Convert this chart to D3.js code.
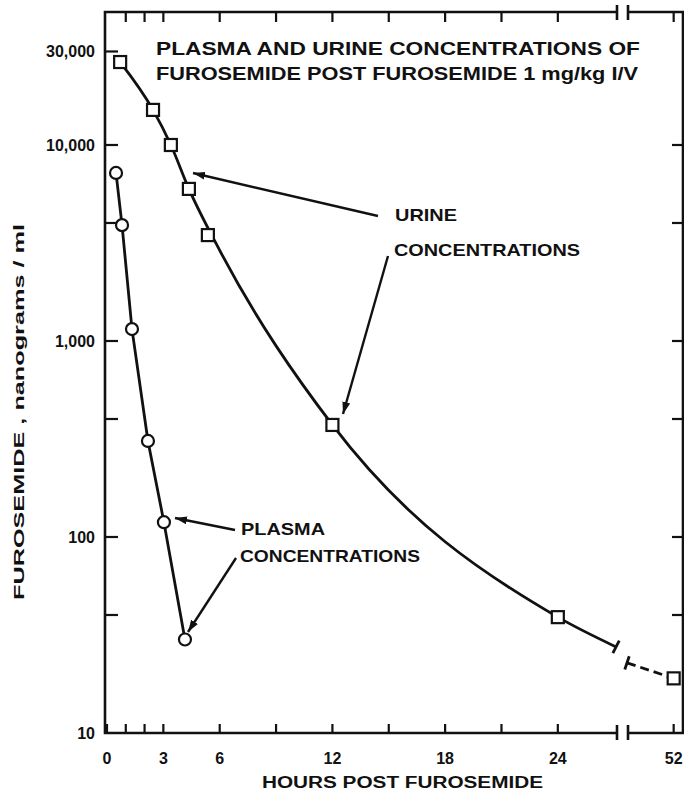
<!DOCTYPE html>
<html>
<head>
<meta charset="utf-8">
<script src="https://cdn.jsdelivr.net/npm/d3@7"></script>
<style>
  body { margin: 0; background: #fff; }
  svg { display: block; }
  text { font-family: "Liberation Sans", Arial, sans-serif; font-weight: bold; fill: #111; }
</style>
</head>
<body>
<svg id="chart" width="684" height="793"></svg>
<script>
// hours post dose and concentrations (ng/ml)
const urineHours = [0.7, 2.45, 3.4, 4.36, 5.37, 12, 24, 52];
const urineValues = [26500, 15100, 10000, 5970, 3470, 373, 39, 19];
const plasmaHours = [0.48, 0.8, 1.33, 2.18, 3.03, 4.15];
const plasmaValues = [7200, 3900, 1150, 309, 119, 30];

// smooth urine curve as drawn (ends at the axis break)
const urineCurveHours = [0.7, 2.45, 3.4, 4.36, 6, 12, 24, 27.1];
const urineCurveValues = [26500, 15100, 10000, 5970, 2900, 373, 39, 27.5];
// dashed piece after the break
const urineDashHours = [49.5, 52];
const urineDashValues = [22.8, 19];

const xTicks = [0, 1, 2, 3, 6, 9, 12, 15, 18, 21, 24];
const xTickLabels = [0, 3, 6, 12, 18, 24];
const xTicksAfterBreak = [52];
const yMajorTicks = [30000, 10000, 1000, 100, 10];
const yMinorTicks = [4000, 400, 40];
const yTickLabels = ['30,000', '10,000', '1,000', '100', '10'];
const rightTicks = [10000, 4000, 1000, 400, 100, 40];

const svg = d3.select('#chart');
const mLeft = 105, mRight = 683, mTop = 12, mBottom = 733;
const breakA = 617, breakB = 628;

const x = d3.scaleLinear().domain([0, 27.15]).range([107, breakA]);
const x2 = d3.scaleLinear().domain([49.5, 52.5]).range([627, 683]);
const y = d3.scaleLog().domain([10, 47700]).range([mBottom, mTop]);

const fx = h => h > 40 ? x2(h) : x(h);
const ink = '#111';

// frame with axis break
const frame = svg.append('g').attr('stroke', ink).attr('stroke-width', 2.6).attr('fill', 'none');
frame.append('path').attr('d', `M${breakA},${mBottom} H${mLeft} V${mTop} H${breakA}`);
frame.append('path').attr('d', `M${breakB},${mBottom} H${mRight} V${mTop} H${breakB}`);
[breakA, breakB].forEach(bx => {
  frame.append('line').attr('x1', bx).attr('x2', bx).attr('y1', mBottom - 8).attr('y2', mBottom + 7);
  frame.append('line').attr('x1', bx).attr('x2', bx).attr('y1', mTop - 7).attr('y2', mTop + 8);
});

// bottom / top ticks
const tk = svg.append('g').attr('stroke', ink).attr('stroke-width', 2.2);
xTicks.forEach(h => {
  tk.append('line').attr('x1', x(h)).attr('x2', x(h)).attr('y1', mBottom).attr('y2', mBottom - 9);
  if (h > 0) tk.append('line').attr('x1', x(h)).attr('x2', x(h)).attr('y1', mTop).attr('y2', mTop + 10);
});
xTicksAfterBreak.forEach(h => {
  tk.append('line').attr('x1', x2(h)).attr('x2', x2(h)).attr('y1', mBottom).attr('y2', mBottom - 9);
  tk.append('line').attr('x1', x2(h)).attr('x2', x2(h)).attr('y1', mTop).attr('y2', mTop + 10);
});

// left / right ticks
yMajorTicks.concat(yMinorTicks).filter(v => v > 10).forEach(v => {
  tk.append('line').attr('x1', mLeft).attr('x2', mLeft + 13).attr('y1', y(v)).attr('y2', y(v));
});
rightTicks.forEach(v => {
  tk.append('line').attr('x1', mRight).attr('x2', mRight - 11).attr('y1', y(v)).attr('y2', y(v));
});

// tick labels
svg.append('g').selectAll('text').data(yMajorTicks).enter().append('text')
  .attr('x', 95).attr('y', d => y(d) + 6)
  .attr('text-anchor', 'end').attr('font-size', 16)
  .text((d, i) => yTickLabels[i]);

svg.append('g').selectAll('text').data(xTickLabels).enter().append('text')
  .attr('x', d => x(d)).attr('y', 764)
  .attr('text-anchor', 'middle').attr('font-size', 16)
  .text(d => d);
svg.append('g').selectAll('text').data(xTicksAfterBreak).enter().append('text')
  .attr('x', d => x2(d)).attr('y', 764)
  .attr('text-anchor', 'middle').attr('font-size', 16)
  .text(d => d);

// axis titles
svg.append('text').attr('x', 262).attr('y', 788).attr('font-size', 16)
  .attr('textLength', 281).attr('lengthAdjust', 'spacingAndGlyphs')
  .text('HOURS POST FUROSEMIDE');
svg.append('text').attr('transform', 'translate(24,600) rotate(-90)')
  .attr('font-size', 15).attr('textLength', 376).attr('lengthAdjust', 'spacingAndGlyphs')
  .text('FUROSEMIDE , nanograms / ml');

// title
svg.append('text').attr('x', 156).attr('y', 55).attr('font-size', 19)
  .attr('textLength', 484).attr('lengthAdjust', 'spacingAndGlyphs')
  .text('PLASMA AND URINE CONCENTRATIONS OF');
svg.append('text').attr('x', 156).attr('y', 80).attr('font-size', 19)
  .attr('textLength', 482).attr('lengthAdjust', 'spacingAndGlyphs')
  .text('FUROSEMIDE  POST FUROSEMIDE 1 mg/kg I/V');

// curves
const line = d3.line().x(d => fx(d[0])).y(d => y(d[1])).curve(d3.curveMonotoneX);
const plot = svg.append('g').attr('fill', 'none').attr('stroke', ink).attr('stroke-width', 2.8);
plot.append('path').attr('d', line(d3.zip(urineCurveHours, urineCurveValues)));
plot.append('path').attr('d', d3.line().x(d => fx(d[0])).y(d => y(d[1]))(d3.zip(plasmaHours, plasmaValues)));
plot.append('path').attr('stroke-dasharray', '9,5')
  .attr('d', d3.line().x(d => fx(d[0])).y(d => y(d[1]))(d3.zip(urineDashHours, urineDashValues)));

// end caps at the break, perpendicular to the curve
function cap(h1, v1, h2, v2) {
  const px = fx(h1), py = y(v1);
  const dx = fx(h2) - px, dy = y(v2) - py, len = Math.hypot(dx, dy);
  const nx = -dy / len * 7, ny = dx / len * 7;
  plot.append('line').attr('x1', px - nx).attr('y1', py - ny).attr('x2', px + nx).attr('y2', py + ny);
}
const nU = urineCurveHours.length;
cap(urineCurveHours[nU - 1], urineCurveValues[nU - 1], urineCurveHours[nU - 2], urineCurveValues[nU - 2]);
cap(urineDashHours[0], urineDashValues[0], urineDashHours[1], urineDashValues[1]);

// markers
svg.append('g').selectAll('rect').data(d3.zip(urineHours, urineValues)).enter().append('rect')
  .attr('x', d => fx(d[0]) - 6).attr('y', d => y(d[1]) - 6)
  .attr('width', 12).attr('height', 12)
  .attr('fill', '#fff').attr('stroke', ink).attr('stroke-width', 2.2);
svg.append('g').selectAll('circle').data(d3.zip(plasmaHours, plasmaValues)).enter().append('circle')
  .attr('cx', d => fx(d[0])).attr('cy', d => y(d[1])).attr('r', 6)
  .attr('fill', '#fff').attr('stroke', ink).attr('stroke-width', 2.2);

// annotations with arrows
const defs = svg.append('defs');
defs.append('marker').attr('id', 'arrow').attr('viewBox', '0 0 12 8')
  .attr('refX', 12).attr('refY', 4).attr('markerWidth', 12).attr('markerHeight', 8)
  .attr('markerUnits', 'userSpaceOnUse').attr('orient', 'auto')
  .append('path').attr('d', 'M0,0 L12,4 L0,8 Z').attr('fill', ink);

const arrows = [
  [378, 216, 193, 173],
  [388, 256, 343, 414],
  [235, 530, 175, 518],
  [236, 558, 188, 632]
];
svg.append('g').selectAll('line').data(arrows).enter().append('line')
  .attr('x1', d => d[0]).attr('y1', d => d[1]).attr('x2', d => d[2]).attr('y2', d => d[3])
  .attr('stroke', ink).attr('stroke-width', 2.4).attr('marker-end', 'url(#arrow)');

const notes = [
  ['URINE', 395, 221, 62],
  ['CONCENTRATIONS', 394, 256, 186],
  ['PLASMA', 241, 535, 84],
  ['CONCENTRATIONS', 240, 562, 180]
];
svg.append('g').selectAll('text').data(notes).enter().append('text')
  .attr('x', d => d[1]).attr('y', d => d[2]).attr('font-size', 17)
  .attr('textLength', d => d[3]).attr('lengthAdjust', 'spacingAndGlyphs')
  .text(d => d[0]);
</script>
</body>
</html>
